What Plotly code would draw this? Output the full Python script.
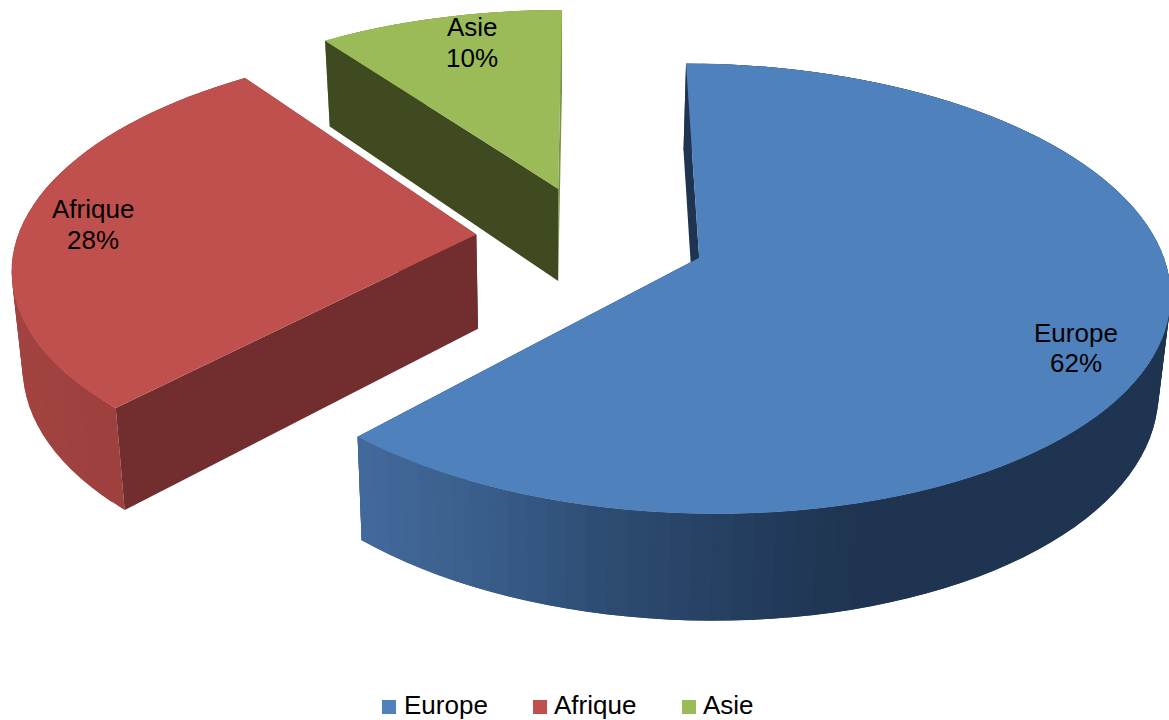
import math
import plotly.graph_objects as go

# ---- data ----
categories = ["Europe", "Afrique", "Asie"]
values = [62, 28, 10]
top_colors = ["#4F81BD", "#C0504D", "#9BBB59"]
wall_colors = ["#1F3450", "#722E2E", "#3F4A21"]
# shading of the rim along screen x
europe_rim_stops = [(357, (67, 107, 158)), (480, (60, 96, 142)), (620, (46, 77, 116)),
                    (760, (36, 62, 95)), (880, (31, 52, 80)), (1200, (31, 52, 80))]
afrique_rim_stops = [(0, (163, 68, 65)), (125, (157, 64, 61))]
asie_rim_stops = [(0, (124, 150, 71)), (1200, (124, 150, 71))]
rim_stops = [europe_rim_stops, afrique_rim_stops, asie_rim_stops]
label_x = [1076, 93, 472]
label_y = [(333, 363), (209, 240), (27, 58)]
key_swatch_x = [389, 540, 689]
key_text_x = [402, 552, 701]

# ---- 3D projection of the pie disc ----
EXPLODE = [0.2475, 0.2535, 0.2475]
A, B, K, E, XC, YC = 459.0, 80.4, 0.1361, -183.1, 592.2, 237.8


def project(u, v):
    w = 1 + K * v
    return (XC + A * u + B * v) / w, (YC + E * v) / w


def drop(p):
    """Point at the bottom of the pie's thickness below a top-surface point."""
    return 560 + (p[0] - 560) * 0.98, 1.0445 * p[1] + 84


def shade(stops, x):
    if x <= stops[0][0]:
        return "rgb(%d,%d,%d)" % stops[0][1]
    for (x0, c0), (x1, c1) in zip(stops, stops[1:]):
        if x <= x1:
            t = (x - x0) / (x1 - x0)
            return "rgb(%d,%d,%d)" % tuple(round(a + (b - a) * t) for a, b in zip(c0, c1))
    return "rgb(%d,%d,%d)" % stops[-1][1]


def poly(points, color, name):
    xs = [p[0] for p in points] + [points[0][0]]
    ys = [p[1] for p in points] + [points[0][1]]
    return go.Scatter(x=xs, y=ys, mode="none", fill="toself", fillcolor=color,
                      showlegend=False, name=name, hoverinfo="name")


total = sum(values)
spans = []
acc = 0.0
for val in values:
    spans.append((acc, acc + val / total * 2 * math.pi))
    acc += val / total * 2 * math.pi

fig = go.Figure()
# back to front: Asie, Afrique, Europe
for i in [2, 1, 0]:
    t0, t1 = spans[i]
    mid = (t0 + t1) / 2
    ou, ov = EXPLODE[i] * math.sin(mid), EXPLODE[i] * math.cos(mid)
    apex = project(ou, ov)
    n = max(8, int((t1 - t0) / (2 * math.pi) * 160))
    arc = [project(ou + math.sin(t0 + (t1 - t0) * j / n), ov + math.cos(t0 + (t1 - t0) * j / n))
           for j in range(n + 1)]
    name = categories[i]
    # far radial wall
    fig.add_trace(poly([apex, arc[-1], drop(arc[-1]), drop(apex)],
                       wall_colors[i] if i != 2 else "#7C9647", name))
    # rim with its horizontal shading; each band overlaps the next to hide seams
    for j in range(n - 1, -1, -1):
        a, b = arc[j], arc[min(j + 2, n)]
        fig.add_trace(poly([a, b, drop(b), drop(a)],
                           shade(rim_stops[i], (arc[j][0] + arc[j + 1][0]) / 2), name))
    # near radial wall
    fig.add_trace(poly([apex, arc[0], drop(arc[0]), drop(apex)], wall_colors[i], name))
    # top face
    fig.add_trace(poly([apex] + arc, top_colors[i], name))

# colour key along the bottom
for name, color, sx in zip(categories, top_colors, key_swatch_x):
    fig.add_trace(go.Scatter(x=[sx], y=[707], mode="markers", name=name, showlegend=False,
                             marker=dict(symbol="square", size=14, color=color)))

annotations = []
for name, val, lx, (y1, y2) in zip(categories, values, label_x, label_y):
    for text, ly in ((name, y1), (f"{val}%", y2)):
        annotations.append(dict(x=lx, y=ly, xref="x", yref="y", showarrow=False,
                                text=text, align="center", yanchor="middle",
                                font=dict(family="Liberation Sans", size=26, color="black")))
for name, tx in zip(categories, key_text_x):
    annotations.append(dict(x=tx, y=705, xref="x", yref="y", showarrow=False, text=name,
                            xanchor="left", yanchor="middle",
                            font=dict(family="Liberation Sans", size=26, color="black")))

fig.update_layout(
    width=1169, height=720,
    margin=dict(l=0, r=0, t=0, b=0),
    paper_bgcolor="white", plot_bgcolor="white",
    xaxis=dict(range=[0, 1169], visible=False, fixedrange=True),
    yaxis=dict(range=[720, 0], visible=False, fixedrange=True),
    annotations=annotations,
    showlegend=False,
)
fig.write_html("out.html", config={"displayModeBar": False},
               post_script="document.body.style.margin='0';")
